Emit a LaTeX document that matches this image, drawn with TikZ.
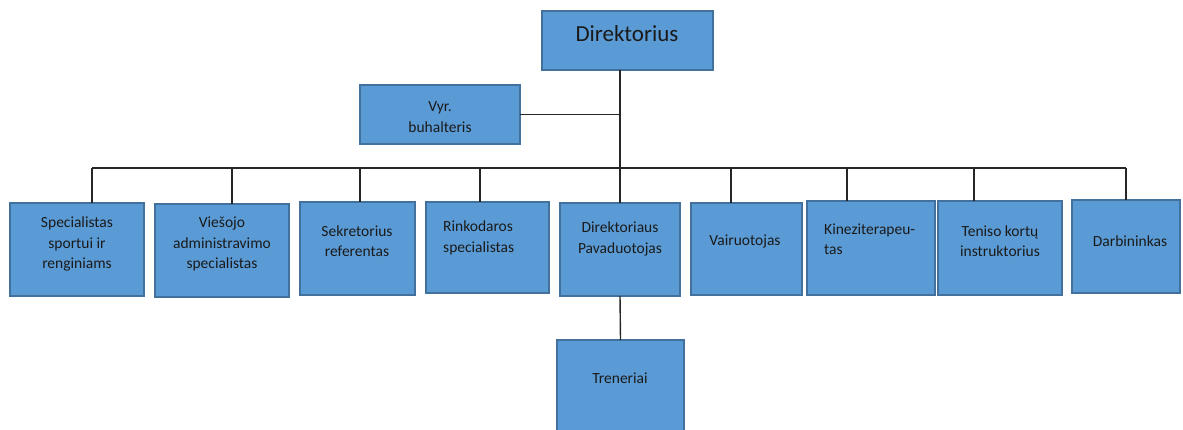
\documentclass[tikz,border=0pt]{standalone}
\usepackage{fontspec}
\setmainfont{Carlito}
\definecolor{boxfill}{HTML}{5B9BD5}
\definecolor{boxline}{HTML}{41719C}
\definecolor{txtcol}{HTML}{1A1A1A}
\definecolor{linecol}{HTML}{262626}
\begin{document}
\begin{tikzpicture}[x=1pt,y=-1pt,
  box/.style={draw=boxline,fill=boxfill,line width=1.4pt,inner sep=0pt,outer sep=0pt,anchor=north west},
  txt/.style={text=txtcol,font=\fontsize{15.5}{20.5}\selectfont,align=center,inner sep=0pt},
  conn/.style={draw=linecol,line width=1.4pt}]
\useasboundingbox (0,0) rectangle (1183,429);
% boxes
\node[box,minimum width=171,minimum height=59] (dir) at (542,11) {};
\node[box,minimum width=160,minimum height=59] (vyr) at (360,85) {};
\node[box,minimum width=134,minimum height=93] (spec) at (10,203) {};
\node[box,minimum width=134,minimum height=93] (vies) at (155,204) {};
\node[box,minimum width=115,minimum height=93] (sekr) at (300,202) {};
\node[box,minimum width=123,minimum height=91] (rink) at (426,202) {};
\node[box,minimum width=120,minimum height=93] (pav) at (560,203) {};
\node[box,minimum width=111,minimum height=92] (vair) at (691,203) {};
\node[box,minimum width=128,minimum height=94] (kin) at (807,201) {};
\node[box,minimum width=124,minimum height=94] (ten) at (938,201) {};
\node[box,minimum width=108,minimum height=93] (darb) at (1072,200) {};
\node[box,minimum width=127,minimum height=92] (tren) at (557,340) {};
% texts
\node[txt,font=\fontsize{23}{27}\selectfont] (tdir) at (627,34) {Direktorius};
\node[txt] (tvyr) at (440,117) {Vyr.\\buhalteris};
\node[txt] (tspec) at (77,244) {Specialistas\\sportui ir\\renginiams};
\node[txt] (tvies) at (222,244) {Viešojo\\administravimo\\specialistas};
\node[txt] (tsekr) at (357,241) {Sekretorius\\referentas};
\node[txt,align=left,anchor=west] (trink) at (443,238) {Rinkodaros\\specialistas};
\node[txt] (tpav) at (620,239) {Direktoriaus\\Pavaduotojas};
\node[txt] (tvair) at (745,241) {Vairuotojas};
\node[txt,align=left,anchor=west] (tkin) at (824,239) {Kineziterapeu-\\tas};
\node[txt] (tten) at (1000,241) {Teniso kortų\\instruktorius};
\node[txt] (tdarb) at (1130,241) {Darbininkas};
\node[txt] (ttren) at (620,378) {Treneriai};
% bus coordinates
\coordinate (d1) at (92,168);
\coordinate (d2) at (232,168);
\coordinate (d3) at (360,168);
\coordinate (d4) at (480,168);
\coordinate (d6) at (731,168);
\coordinate (d7) at (847,168);
\coordinate (d8) at (974,168);
\coordinate (d9) at (1126,168);
% connectors
\draw[conn] (pav.north |- dir.south) -- (pav.north);
\draw[conn] (vyr.east) -- (vyr.east -| pav.north);
\draw[conn] (d1) -- (d9);
\draw[conn] (d1) -- (d1 |- spec.north);
\draw[conn] (d2) -- (d2 |- vies.north);
\draw[conn] (d3) -- (d3 |- sekr.north);
\draw[conn] (d4) -- (d4 |- rink.north);
\draw[conn] (d6) -- (d6 |- vair.north);
\draw[conn] (d7) -- (d7 |- kin.north);
\draw[conn] (d8) -- (d8 |- ten.north);
\draw[conn] (d9) -- (d9 |- darb.north);
\draw[conn] (pav.south) -- (tren.north);
\end{tikzpicture}
\end{document}
